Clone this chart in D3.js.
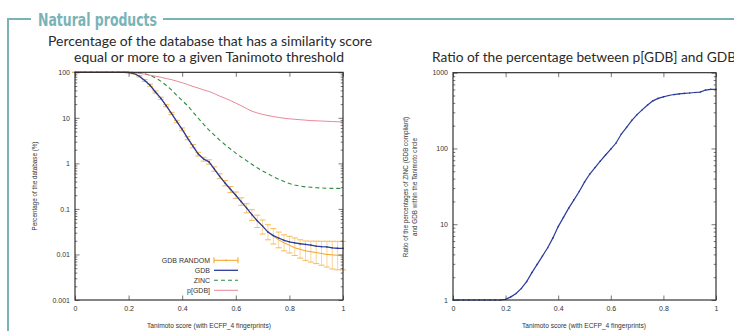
<!DOCTYPE html>
<html><head><meta charset="utf-8">
<script src="https://cdn.jsdelivr.net/npm/d3@7"></script>
<style>
html,body{margin:0;padding:0;background:#fff;}
svg{display:block;}
</style></head>
<body><svg id="c" width="734" height="331"></svg>
<script>
// ---------- DATA ----------
const thresholds = [0,0.02,0.04,0.06,0.08,0.1,0.12,0.14,0.16,0.18,0.2,0.22,0.24,0.26,0.28,0.3,0.32,0.34,0.36,0.38,0.4,0.42,0.44,0.46,0.48,0.5,0.52,0.54,0.56,0.58,0.6,0.62,0.64,0.66,0.68,0.7,0.72,0.74,0.76,0.78,0.8,0.82,0.84,0.86,0.88,0.9,0.92,0.94,0.96,0.98,1];
const gdb = [100,100,100,100,100,100,100,100,100,100,99,94,82,66,52,37,27,18.5,12.5,8.3,5.6,3.6,2.4,1.6,1.25,1.08,0.75,0.52,0.37,0.27,0.2,0.145,0.105,0.075,0.055,0.042,0.031,0.026,0.023,0.0205,0.019,0.018,0.0172,0.0166,0.016,0.0152,0.0148,0.0146,0.014,0.0137,0.0136];
const gdbRandom = [100,100,100,100,100,100,100,100,100,100,99,94,82,66,52,37,27,18.5,12.5,8.3,5.6,3.6,2.4,1.6,1.25,1.08,0.75,0.52,0.37,0.27,0.2,0.145,0.105,0.075,0.054,0.041,0.031,0.025,0.021,0.018,0.016,0.014,0.013,0.012,0.0115,0.011,0.0105,0.01,0.0098,0.0096,0.0095];
const gdbRandomUpper = [100,100,100,100,100,100,100,100,100,100,100,96,85,69,55,39,28.5,19.5,13.2,8.8,6.0,3.9,2.6,1.75,1.36,1.2,0.84,0.59,0.42,0.31,0.235,0.175,0.13,0.096,0.073,0.057,0.045,0.037,0.031,0.027,0.025,0.023,0.021,0.0198,0.0196,0.0196,0.0195,0.0195,0.0195,0.0194,0.0194];
const gdbRandomLower = [100,100,100,100,100,100,100,100,100,100,98,92,79,63,49,35,25.5,17.5,11.8,7.8,5.2,3.3,2.2,1.45,1.12,0.96,0.67,0.46,0.32,0.23,0.17,0.12,0.082,0.056,0.039,0.028,0.021,0.017,0.014,0.012,0.0108,0.0095,0.0083,0.0074,0.0068,0.0063,0.0058,0.0053,0.0048,0.0046,0.0046];
const zinc = [100,100,100,100,100,100,100,100,100,100,100,99,97,93,86,76,64,52,41,31,24,18.5,13.5,9.8,7.2,5.4,4.17,3.24,2.57,2.07,1.68,1.38,1.15,0.955,0.8,0.68,0.59,0.51,0.45,0.4,0.36,0.335,0.316,0.305,0.3,0.292,0.288,0.285,0.283,0.282,0.28];
const pgdb = [100,100,100,100,100,100,100,100,100,100,100,98,95,91,86,82,78,73,69,64,59,54,49,45,41,38,34,30,27,24,21,18.5,16,14,12.8,11.9,11.2,10.7,10.2,9.8,9.5,9.3,9.1,8.9,8.7,8.6,8.5,8.4,8.3,8.2,8.1];
const ratio = [1,1,1,1,1,1,1,1,1,1,1.02,1.1,1.22,1.42,1.75,2.3,2.95,3.8,4.9,6.6,9.3,12.3,16.3,21,27,36,46,56,68,82,98,118,155,190,235,280,325,375,425,458,480,500,515,525,533,540,548,555,590,603,603];
const xTickValues = [0,0.2,0.4,0.6,0.8,1];
const xTickLabels = ["0","0.2","0.4","0.6","0.8","1"];
const leftYTicks = [0.001,0.01,0.1,1,10,100];
const leftYTickLabels = ["0.001","0.01","0.1","1","10","100"];
const rightYTicks = [1,10,100,1000];
const rightYTickLabels = ["1","10","100","1000"];
const legendNames = ["GDB RANDOM","GDB","ZINC","p[GDB]"];

// ---------- STYLE ----------
const teal = "#79b3b8";
const cOrange = "#f5a21e", cBlue = "#2a3c9c", cGreen = "#2b8c3c", cPink = "#e57a8c";
const gpFont = "'Liberation Sans', Arial, sans-serif";
const titleFont = "Lato, 'Open Sans', sans-serif";

const svg = d3.select("#c");

// Section frame
svg.append("path").attr("d","M8,331V19H31").attr("fill","none").attr("stroke",teal).attr("stroke-width",2);
svg.append("line").attr("x1",163).attr("x2",734).attr("y1",19).attr("y2",19).attr("stroke",teal).attr("stroke-width",2);
svg.append("text").attr("x",38).attr("y",26).text("Natural products")
  .attr("font-family","'Liberation Sans Narrow','DejaVu Sans Condensed',sans-serif").attr("font-weight","bold")
  .attr("font-size",18.5).attr("fill",teal).attr("textLength",119).attr("lengthAdjust","spacingAndGlyphs");

// Titles
function title(x,y,str,len){
  svg.append("text").attr("x",x).attr("y",y).text(str).attr("font-family",titleFont)
    .attr("font-size",13.5).attr("fill","#2a2a2a").attr("textLength",len).attr("lengthAdjust","spacingAndGlyphs");
}
title(48,46,"Percentage of the database that has a similarity score",324);
title(74,62,"equal or more to a given Tanimoto threshold",270);
title(432,62,"Ratio of the percentage between p[GDB] and GDB",304);

function minorTicks(domain){
  const out=[];
  const lo=Math.log10(domain[0]), hi=Math.log10(domain[1]);
  for(let e=lo;e<hi;e++) for(let k=2;k<=9;k++) out.push(k*Math.pow(10,e));
  return out;
}

function frame(g, x, y, yTicks, yLabels){
  const [x0,x1]=x.range(), [y0,y1]=y.range();
  const tf = (vals,labels)=> (d=>labels[vals.indexOf(d)]);
  const bx = g.append("g").attr("transform",`translate(0,${y0})`)
    .call(d3.axisBottom(x).tickValues(xTickValues).tickFormat(tf(xTickValues,xTickLabels)).tickSizeInner(-4.5).tickSizeOuter(0).tickPadding(6));
  const tx = g.append("g").attr("transform",`translate(0,${y1})`)
    .call(d3.axisTop(x).tickValues(xTickValues).tickFormat("").tickSizeInner(-4.5).tickSizeOuter(0));
  const ly = g.append("g").attr("transform",`translate(${x0},0)`)
    .call(d3.axisLeft(y).tickValues(yTicks).tickFormat(tf(yTicks,yLabels)).tickSizeInner(-4.5).tickSizeOuter(0).tickPadding(5));
  const ry = g.append("g").attr("transform",`translate(${x1},0)`)
    .call(d3.axisRight(y).tickValues(yTicks).tickFormat("").tickSizeInner(-4.5).tickSizeOuter(0));
  const mt = minorTicks(y.domain());
  const lm = g.append("g").attr("transform",`translate(${x0},0)`)
    .call(d3.axisLeft(y).tickValues(mt).tickFormat("").tickSizeInner(-2.3).tickSizeOuter(0));
  const rm = g.append("g").attr("transform",`translate(${x1},0)`)
    .call(d3.axisRight(y).tickValues(mt).tickFormat("").tickSizeInner(-2.3).tickSizeOuter(0));
  [bx,tx,ly,ry,lm,rm].forEach(a=>{
    a.select(".domain").remove();
    a.selectAll("line").attr("stroke","#555").attr("stroke-width",0.8);
    a.selectAll("text").attr("font-family",gpFont).attr("font-size",7).attr("fill","#333");
  });
  g.append("rect").attr("x",x0).attr("y",y1).attr("width",x1-x0).attr("height",y0-y1)
    .attr("fill","none").attr("stroke","#222").attr("stroke-width",1.1);
}

// ---------- LEFT CHART ----------
const xL = d3.scaleLinear().domain([0,1]).range([75,343]);
const yL = d3.scaleLog().domain([0.001,100]).range([300,72.3]);
const gL = svg.append("g");

// GDB RANDOM error bars
const eb = gL.append("g");
thresholds.forEach((t,i)=>{
  const xx = xL(t);
  eb.append("line").attr("x1",xx).attr("x2",xx).attr("y1",yL(gdbRandomLower[i])).attr("y2",yL(gdbRandomUpper[i]))
    .attr("stroke",cOrange).attr("stroke-width",0.8).attr("opacity",0.55);
  [gdbRandomLower[i],gdbRandomUpper[i]].forEach(v=>{
    eb.append("line").attr("x1",xx-3).attr("x2",xx+3).attr("y1",yL(v)).attr("y2",yL(v))
      .attr("stroke",cOrange).attr("stroke-width",0.9).attr("opacity",0.8);
  });
});
const lineL = d3.line().x((d,i)=>xL(thresholds[i])).y(d=>yL(d));
gL.append("path").datum(gdbRandom).attr("d",lineL).attr("fill","none").attr("stroke",cOrange).attr("stroke-width",1);
gL.append("path").datum(gdb).attr("d",lineL).attr("fill","none").attr("stroke",cBlue).attr("stroke-width",1.3);
gL.append("g").selectAll("circle").data(gdb).join("circle").attr("cx",(d,i)=>xL(thresholds[i])).attr("cy",d=>yL(d))
  .attr("r",0.8).attr("fill",cBlue);
gL.append("path").datum(zinc).attr("d",lineL).attr("fill","none").attr("stroke",cGreen).attr("stroke-width",1.1).attr("stroke-dasharray","4,3");
gL.append("path").datum(pgdb).attr("d",lineL).attr("fill","none").attr("stroke",cPink).attr("stroke-width",0.9);

frame(gL, xL, yL, leftYTicks, leftYTickLabels);

// Legend
const legY = [260.3,270.3,280.3,290.3];
legendNames.forEach((n,i)=>{
  gL.append("text").attr("x",210).attr("y",legY[i]).attr("dy","0.35em").attr("text-anchor","end")
    .attr("font-family",gpFont).attr("font-size",7).attr("fill","#333").text(n);
});
gL.append("line").attr("x1",214).attr("x2",238).attr("y1",legY[0]).attr("y2",legY[0]).attr("stroke",cOrange).attr("stroke-width",1);
[214,238].forEach(xx=>gL.append("line").attr("x1",xx).attr("x2",xx).attr("y1",legY[0]-3).attr("y2",legY[0]+3).attr("stroke",cOrange).attr("stroke-width",1));
gL.append("circle").attr("cx",226).attr("cy",legY[0]).attr("r",0.9).attr("fill",cOrange);
gL.append("line").attr("x1",214).attr("x2",238).attr("y1",legY[1]).attr("y2",legY[1]).attr("stroke",cBlue).attr("stroke-width",1.3);
gL.append("line").attr("x1",214).attr("x2",238).attr("y1",legY[2]).attr("y2",legY[2]).attr("stroke",cGreen).attr("stroke-width",1.1).attr("stroke-dasharray","4,3");
gL.append("line").attr("x1",214).attr("x2",238).attr("y1",legY[3]).attr("y2",legY[3]).attr("stroke",cPink).attr("stroke-width",0.9);

// Axis labels
svg.append("text").attr("transform","translate(35,186) rotate(-90)").attr("text-anchor","middle").attr("dy","0.35em")
  .attr("font-family",gpFont).attr("font-size",6.3).attr("fill","#333").text("Percentage of the database (%)");
svg.append("text").attr("x",209).attr("y",326).attr("text-anchor","middle").attr("dy","0.35em")
  .attr("font-family",gpFont).attr("font-size",6.6).attr("fill","#333").text("Tanimoto score (with ECFP_4 fingerprints)");

// ---------- RIGHT CHART ----------
const xR = d3.scaleLinear().domain([0,1]).range([453,716]);
const yR = d3.scaleLog().domain([1,1000]).range([300,72.7]);
const gR = svg.append("g");
const lineR = d3.line().x((d,i)=>xR(thresholds[i])).y(d=>yR(d));
gR.append("path").datum(ratio).attr("d",lineR).attr("fill","none").attr("stroke",cBlue).attr("stroke-width",1.2);
gR.append("g").selectAll("circle").data(ratio).join("circle").attr("cx",(d,i)=>xR(thresholds[i])).attr("cy",d=>yR(d))
  .attr("r",0.8).attr("fill",cBlue);
frame(gR, xR, yR, rightYTicks, rightYTickLabels);

svg.append("text").attr("transform","translate(406,187) rotate(-90)").attr("text-anchor","middle").attr("dy","0.35em")
  .attr("font-family",gpFont).attr("font-size",6.3).attr("fill","#333").text("Ratio of the percentages of ZINC (GDB compliant)");
svg.append("text").attr("transform","translate(415,187) rotate(-90)").attr("text-anchor","middle").attr("dy","0.35em")
  .attr("font-family",gpFont).attr("font-size",6.3).attr("fill","#333").text("and GDB within the Tanimoto circle");
svg.append("text").attr("x",584).attr("y",326).attr("text-anchor","middle").attr("dy","0.35em")
  .attr("font-family",gpFont).attr("font-size",6.6).attr("fill","#333").text("Tanimoto score (with ECFP_4 fingerprints)");
</script></body></html>
